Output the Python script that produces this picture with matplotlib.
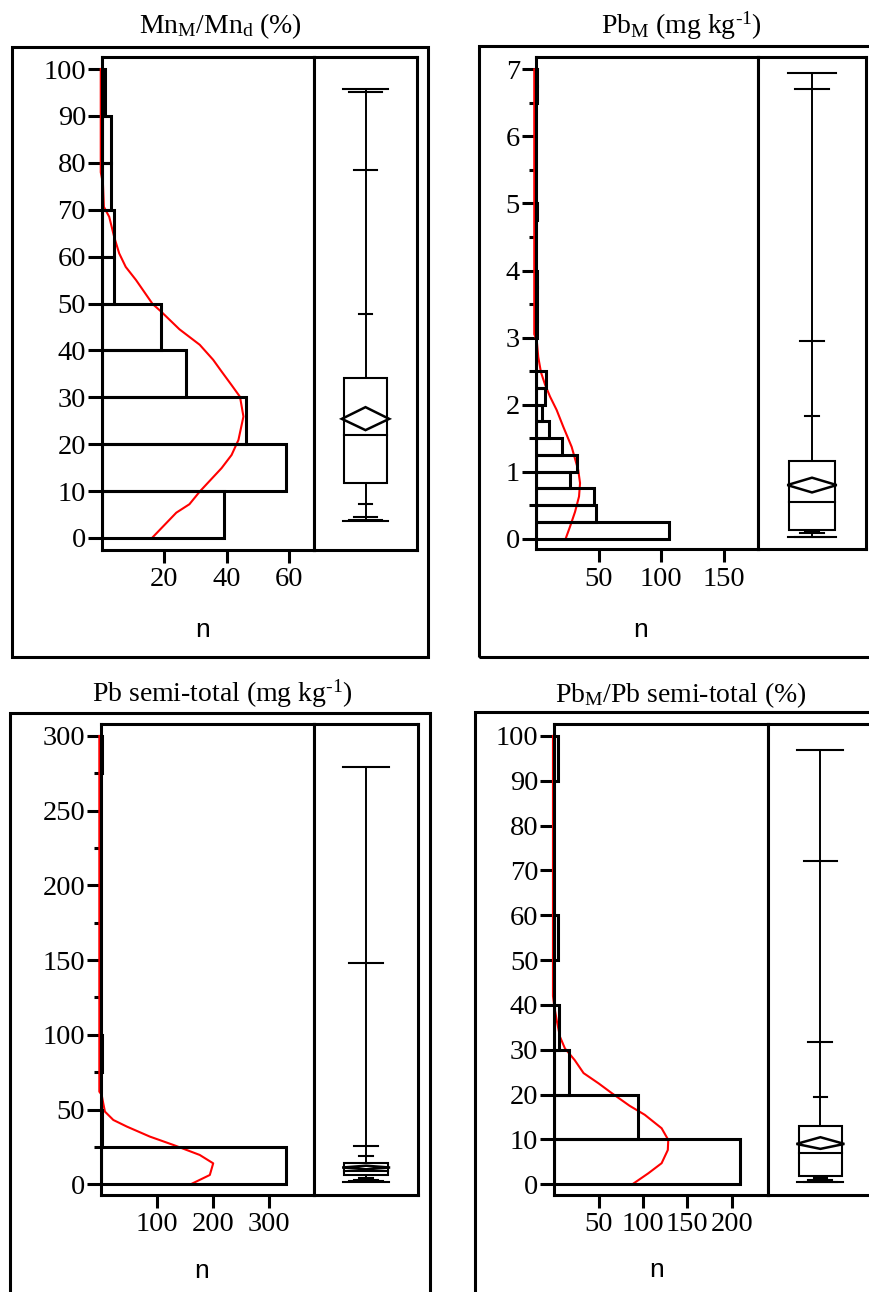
import matplotlib
matplotlib.use("Agg")
import matplotlib.pyplot as plt
from matplotlib.patches import Rectangle, Polygon
from matplotlib.ticker import FixedLocator, NullFormatter

plt.rcParams['font.family'] = ['Liberation Serif', 'DejaVu Serif']
plt.rcParams['mathtext.fontset'] = 'custom'
plt.rcParams['mathtext.rm'] = 'Liberation Serif'
plt.rcParams['mathtext.it'] = 'Liberation Serif:italic'
plt.rcParams['mathtext.bf'] = 'Liberation Serif:bold'
plt.rcParams['mathtext.default'] = 'regular'

# ---------------- data ----------------
# Panel 1: MnM/Mnd (%)
mn_bin_edges = [0, 10, 20, 30, 40, 50, 60, 70, 80, 90, 100]
mn_counts = [39, 59, 46, 27, 19, 4, 4, 3, 3, 1]
mn_curve_n = [16, 23.8, 28, 31.3, 38.3, 41.5, 43.7, 45.3, 44.2, 41.5, 38.3, 35.6, 31.3, 24.8,
              18.9, 16.2, 10.9, 7.6, 5.5, 3.9, 2.3, 0.6, 0.3, -0.4, -0.4]
mn_curve_v = [0, 5.4, 7.2, 9.9, 14.9, 17.7, 20.9, 25.9, 30.1, 32.6, 35.5, 38, 41.2, 44.5,
              48.3, 49.9, 55, 57.8, 60.7, 64.2, 68.5, 70.6, 75.6, 78, 100]
mn_box = [11.7, 21.9, 34.05]          # q25, median, q75
mn_mean = [23.0, 25.4, 27.9]          # CI low, mean, CI high
mn_upper = [47.7, 78.5, 95.2, 95.7]   # upper quantiles -> max
mn_lower = [7.25, 4.4, 3.9, 3.7]      # lower quantiles -> min

# Panel 2: PbM (mg kg-1)
pb_bin_edges = [0, 0.25, 0.5, 0.75, 1.0, 1.25, 1.5, 1.75, 2.0, 2.25, 2.5, 2.75, 3.0, 3.25,
                3.5, 3.75, 4.0, 4.25, 4.5, 4.75, 5.0, 5.25, 5.5, 5.75, 6.0, 6.25, 6.5, 6.75, 7.0]
pb_counts = [106, 48, 46, 27, 33, 21, 10, 5, 7, 8, 0, 0, 1, 1,
             1, 1, 0, 0, 0, 1, 0, 0, 0, 0, 0, 0, 1, 1]
pb_curve_n = [23.7, 27.2, 31.2, 34.4, 35.2, 33.8, 28.5, 21.8, 16.5, 11.2, 7.2, 4.0, 1.8, 0.6, -1.4, -1.4]
pb_curve_v = [0, 0.18, 0.40, 0.63, 0.83, 1.02, 1.37, 1.67, 1.92, 2.12, 2.3, 2.48, 2.71, 2.96, 3.05, 7.0]
pb_box = [0.13, 0.55, 1.16]
pb_mean = [0.69, 0.80, 0.91]
pb_upper = [1.83, 2.95, 6.71, 6.94]
pb_lower = [0.12, 0.08, 0.03, 0.02]

# Panel 3: Pb semi-total (mg kg-1)
pbs_bin_edges = [0, 25, 50, 75, 100, 125, 150, 175, 200, 225, 250, 275, 300]
pbs_counts = [329, 2, 0, 1, 0, 0, 0, 0, 0, 0, 0, 1]
pbs_curve_n = [160, 194, 200, 176, 129, 87, 46, 22, 7, 4, 1.2, -3, -3]
pbs_curve_v = [0, 6.2, 14, 19.6, 26.3, 31.9, 38.6, 43, 48.6, 54.2, 59.8, 62, 300]
pbs_box = [6.0, 8.9, 14.5]
pbs_mean = [10.0, 11.2, 12.4]
pbs_upper = [19.2, 25.6, 147.9, 278.9]
pbs_lower = [4.0, 3.0, 2.2, 1.5]

# Panel 4: PbM/Pb semi-total (%)
pbr_bin_edges = [0, 10, 20, 30, 40, 50, 60, 70, 80, 90, 100]
pbr_counts = [209, 94, 17, 5, 0, 4, 0, 0, 0, 4]
pbr_curve_n = [88, 106, 121, 128, 128.5, 121, 102, 85, 65, 50, 33, 23, 12, 6.4, 2.7, 0, -1.5, -1.5]
pbr_curve_v = [0, 2.45, 4.7, 7.65, 9.9, 12.5, 15.5, 17.5, 20.3, 22.5, 24.8, 27.7, 30.3, 32.9,
               36.6, 39.6, 42, 100]
pbr_box = [1.85, 6.9, 13.0]
pbr_mean = [7.9, 9.0, 10.5]
pbr_upper = [19.4, 31.7, 72.1, 96.9]
pbr_lower = [1.5, 1.0, 0.6, 0.45]

titles = [r'Mn$_\mathregular{M}$/Mn$_\mathregular{d}$ (%)',
          r'Pb$_\mathregular{M}$ (mg kg$^{\text{-1}}$)',
          r'Pb semi-total (mg kg$^{\text{-1}}$)',
          r'Pb$_\mathregular{M}$/Pb semi-total (%)']
xlabel = 'n'

# ---------------- layout (pixels) ----------------
W, H = 869, 1292
fig = plt.figure(figsize=(W / 100, H / 100), dpi=100)

LW = 2.2
BLW = 1.5


def add_ax(left, top, right, bottom):
    return fig.add_axes([left / W, 1 - bottom / H, (right - left) / W, (bottom - top) / H])


def frame(left, top, right, bottom):
    fig.patches.append(Rectangle((left / W, 1 - bottom / H), (right - left) / W, (bottom - top) / H,
                                 transform=fig.transFigure, fill=False, lw=LW, ec='black', clip_on=False))


panels = [
    dict(edges=mn_bin_edges, counts=mn_counts, cn=mn_curve_n, cv=mn_curve_v, box=mn_box, mean=mn_mean,
         up=mn_upper, lo=mn_lower, title=titles[0],
         outer=(12, 46.7, 428, 657), hist=(102, 57, 314, 550), boxr=417,
         xlim=67.9, ylim=(-2.56, 102.56), xt=[20, 40, 60], yt=list(range(0, 101, 10)), ymin=[],
         tcx=220, tby=33.5, ncx=203, nby=636.7),
    dict(edges=pb_bin_edges, counts=pb_counts, cn=pb_curve_n, cv=pb_curve_v, box=pb_box, mean=pb_mean,
         up=pb_upper, lo=pb_lower, title=titles[1],
         outer=(479.3, 46, 884, 657), hist=(536, 57.3, 758.3, 549.3), boxr=865.7,
         xlim=177.7, ylim=(-0.158, 7.18), xt=[50, 100, 150], yt=list(range(0, 8)),
         ymin=[0.5, 1.5, 2.5, 3.5, 4.5, 5.5, 6.5],
         tcx=681, tby=33.5, ncx=641, nby=636.7),
    dict(edges=pbs_bin_edges, counts=pbs_counts, cn=pbs_curve_n, cv=pbs_curve_v, box=pbs_box, mean=pbs_mean,
         up=pbs_upper, lo=pbs_lower, title=titles[2],
         outer=(10, 712.7, 430, 1310), hist=(101, 724.3, 314, 1195), boxr=418.3,
         xlim=379.7, ylim=(-7.2, 307.8), xt=[100, 200, 300], yt=list(range(0, 301, 50)),
         ymin=[25, 75, 125, 175, 225, 275],
         tcx=222.5, tby=701.7, ncx=202, nby=1278.3),
    dict(edges=pbr_bin_edges, counts=pbr_counts, cn=pbr_curve_n, cv=pbr_curve_v, box=pbr_box, mean=pbr_mean,
         up=pbr_upper, lo=pbr_lower, title=titles[3],
         outer=(475, 712.3, 888, 1310), hist=(554.3, 724.3, 768.3, 1195), boxr=872.5,
         xlim=241.3, ylim=(-2.39, 102.6), xt=[50, 100, 150, 200], yt=list(range(0, 101, 10)), ymin=[],
         tcx=681.3, tby=701.7, ncx=657, nby=1276.7),
]

tick_w = [0.13, 0.23, 0.32, 0.44]
BOXW = 0.42

for p in panels:
    frame(*p['outer'])
    l, t, r, b = p['hist']
    ax = add_ax(l, t, r, b)
    bx = add_ax(r, t, p['boxr'], b)

    # histogram
    edges, counts = p['edges'], p['counts']
    for i, c in enumerate(counts):
        if c > 0:
            ax.barh(edges[i], c, height=edges[i + 1] - edges[i], left=0, align='edge',
                    fill=False, edgecolor='black', linewidth=LW, zorder=3)
    ax.plot(p['cn'], p['cv'], color='#ff0000', lw=1.5, zorder=2, clip_on=False)

    ax.set_xlim(0, p['xlim'])
    ax.set_ylim(*p['ylim'])
    ax.xaxis.set_major_locator(FixedLocator(p['xt']))
    ax.yaxis.set_major_locator(FixedLocator(p['yt']))
    if p['ymin']:
        ax.yaxis.set_minor_locator(FixedLocator(p['ymin']))
        ax.yaxis.set_minor_formatter(NullFormatter())
    ax.tick_params(axis='y', which='major', direction='out', length=10, width=LW, pad=1.5, labelsize=20.5)
    ax.tick_params(axis='y', which='minor', direction='out', length=5, width=LW)
    ax.tick_params(axis='x', which='major', direction='out', length=9.5, width=LW, pad=3, labelsize=20.5)
    for s in ax.spines.values():
        s.set_linewidth(LW)

    # box plot
    bx.set_xlim(0, 1)
    bx.set_ylim(*p['ylim'])
    bx.set_xticks([])
    bx.set_yticks([])
    for s in bx.spines.values():
        s.set_linewidth(LW)
    c = 0.5
    up, lo = p['up'], p['lo']
    bx.plot([c, c], [lo[-1], up[-1]], color='black', lw=1.4, zorder=2)
    for vals in (up, lo):
        for v, w in zip(vals, tick_w):
            bx.plot([c - w / 2, c + w / 2], [v, v], color='black', lw=BLW, zorder=3)
    q25, q50, q75 = p['box']
    bx.add_patch(Rectangle((c - BOXW / 2, q25), BOXW, q75 - q25, fill=True, fc='white',
                           ec='black', lw=BLW, zorder=4))
    bx.plot([c - BOXW / 2, c + BOXW / 2], [q50, q50], color='black', lw=BLW, zorder=5)
    m_lo, m, m_hi = p['mean']
    bx.add_patch(Polygon([(c - BOXW / 2 - 0.02, m), (c, m_hi), (c + BOXW / 2 + 0.02, m), (c, m_lo)],
                         closed=True, fill=False, ec='black', lw=BLW + 0.3, zorder=6))

    fig.text(p['tcx'] / W, 1 - p['tby'] / H, p['title'], ha='center', va='baseline', fontsize=20)
    fig.text(p['ncx'] / W, 1 - p['nby'] / H, xlabel, ha='center', va='baseline', fontsize=19,
             family='Liberation Sans')

fig.savefig('out.png', dpi=100)
